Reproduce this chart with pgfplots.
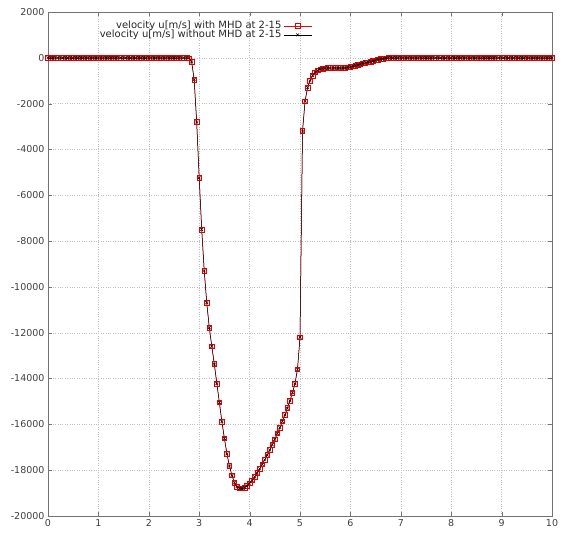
\documentclass[border=0pt]{standalone}
\usepackage{fontspec}
\setmainfont{DejaVu Sans}
\usepackage{pgfplots}
\usepackage{pgfplotstable}
\pgfplotsset{compat=1.18}

% velocity u along the line, both runs give the same curve
\pgfplotstableread[row sep=\\]{
x y\\
0 0\\ 0.05 0\\ 0.1 0\\ 0.15 0\\ 0.2 0\\ 0.25 0\\ 0.3 0\\ 0.35 0\\ 0.4 0\\ 0.45 0\\
0.5 0\\ 0.55 0\\ 0.6 0\\ 0.65 0\\ 0.7 0\\ 0.75 0\\ 0.8 0\\ 0.85 0\\ 0.9 0\\ 0.95 0\\
1 0\\ 1.05 0\\ 1.1 0\\ 1.15 0\\ 1.2 0\\ 1.25 0\\ 1.3 0\\ 1.35 0\\ 1.4 0\\ 1.45 0\\
1.5 0\\ 1.55 0\\ 1.6 0\\ 1.65 0\\ 1.7 0\\ 1.75 0\\ 1.8 0\\ 1.85 0\\ 1.9 0\\ 1.95 0\\
2 0\\ 2.05 0\\ 2.1 0\\ 2.15 0\\ 2.2 0\\ 2.25 0\\ 2.3 0\\ 2.35 0\\ 2.4 0\\ 2.45 0\\
2.5 0\\ 2.55 0\\ 2.6 0\\ 2.65 0\\ 2.7 0\\ 2.75 0\\ 2.8 -20\\
2.85 -180\\ 2.9 -950\\ 2.95 -2800\\ 3 -5240\\ 3.05 -7500\\ 3.1 -9300\\
3.15 -10690\\ 3.2 -11780\\ 3.25 -12590\\ 3.3 -13370\\ 3.35 -14220\\ 3.4 -15040\\
3.45 -15880\\ 3.5 -16610\\ 3.55 -17290\\ 3.6 -17820\\ 3.65 -18230\\ 3.7 -18550\\
3.75 -18720\\ 3.8 -18790\\ 3.85 -18800\\ 3.9 -18760\\ 3.95 -18680\\ 4 -18570\\
4.05 -18440\\ 4.1 -18290\\ 4.15 -18120\\ 4.2 -17940\\ 4.25 -17750\\ 4.3 -17550\\
4.35 -17340\\ 4.4 -17120\\ 4.45 -16890\\ 4.5 -16650\\ 4.55 -16400\\ 4.6 -16140\\
4.65 -15870\\ 4.7 -15590\\ 4.75 -15290\\ 4.8 -14970\\ 4.85 -14620\\ 4.9 -14230\\
4.95 -13600\\ 5 -12200\\ 5.05 -3200\\ 5.1 -1900\\ 5.15 -1300\\ 5.2 -1000\\
5.25 -780\\ 5.3 -640\\ 5.35 -550\\ 5.4 -500\\ 5.45 -470\\ 5.5 -455\\
5.55 -450\\ 5.6 -450\\ 5.65 -450\\ 5.7 -450\\ 5.75 -450\\ 5.8 -450\\
5.85 -445\\ 5.9 -440\\ 5.95 -420\\ 6 -400\\ 6.05 -370\\ 6.1 -340\\
6.15 -310\\ 6.2 -280\\ 6.25 -250\\ 6.3 -220\\ 6.35 -190\\ 6.4 -165\\
6.45 -140\\ 6.5 -110\\ 6.55 -80\\ 6.6 -55\\ 6.65 -35\\ 6.7 -15\\
6.75 0\\ 6.8 0\\ 6.85 0\\ 6.9 0\\ 6.95 0\\
7 0\\ 7.05 0\\ 7.1 0\\ 7.15 0\\ 7.2 0\\ 7.25 0\\ 7.3 0\\ 7.35 0\\ 7.4 0\\ 7.45 0\\
7.5 0\\ 7.55 0\\ 7.6 0\\ 7.65 0\\ 7.7 0\\ 7.75 0\\ 7.8 0\\ 7.85 0\\ 7.9 0\\ 7.95 0\\
8 0\\ 8.05 0\\ 8.1 0\\ 8.15 0\\ 8.2 0\\ 8.25 0\\ 8.3 0\\ 8.35 0\\ 8.4 0\\ 8.45 0\\
8.5 0\\ 8.55 0\\ 8.6 0\\ 8.65 0\\ 8.7 0\\ 8.75 0\\ 8.8 0\\ 8.85 0\\ 8.9 0\\ 8.95 0\\
9 0\\ 9.05 0\\ 9.1 0\\ 9.15 0\\ 9.2 0\\ 9.25 0\\ 9.3 0\\ 9.35 0\\ 9.4 0\\ 9.45 0\\
9.5 0\\ 9.55 0\\ 9.6 0\\ 9.65 0\\ 9.7 0\\ 9.75 0\\ 9.8 0\\ 9.85 0\\ 9.9 0\\ 9.95 0\\
10 0\\
}\velo

\begin{document}
\begin{tikzpicture}
  \begin{axis}[
    name=ax,
    scale only axis,
    width=504pt, height=504pt,
    xmin=0, xmax=10, ymin=-20000, ymax=2000,
    xtick={0,1,...,10},
    ytick={-20000,-18000,...,2000},
    scaled y ticks=false,
    /pgf/number format/assume math mode=true,
    /pgf/number format/1000 sep={},
    tick label style={font=\fontsize{9.5}{11}\selectfont, text=black!75},
    axis line style={black!55, line width=0.8pt},
    major tick length=4pt,
    tick style={black!55},
    grid=major,
    grid style={dotted, black!25},
    legend style={draw=none, fill=none, at={(0.53,0.99)}, anchor=north east,
      font=\fontsize{10}{11.5}\selectfont, row sep=-4pt, text=black!85},
    legend cell align=right,
    legend plot pos=right,
    legend image code/.code={%
      \draw[mark repeat=2, mark phase=2] plot coordinates {(0pt,0pt) (14pt,0pt) (28pt,0pt)};},
  ]
    \addplot[red, line width=0.5pt, mark=square, mark size=2.3pt,
      mark options={red!90!black, line width=0.7pt, fill=red!25}]
      table[x=x, y=y]{\velo};
    \addplot[black, line width=0.5pt, mark=x, mark size=2pt]
      table[x=x, y=y]{\velo};
    \legend{velocity u[m/s] with MHD at 2-15, velocity u[m/s] without MHD at 2-15}
  \end{axis}
  % keep the reference's margins round the axis
  \path ([xshift=-48pt,yshift=-21pt]ax.south west) rectangle ([xshift=13pt,yshift=12pt]ax.north east);
\end{tikzpicture}
\end{document}
